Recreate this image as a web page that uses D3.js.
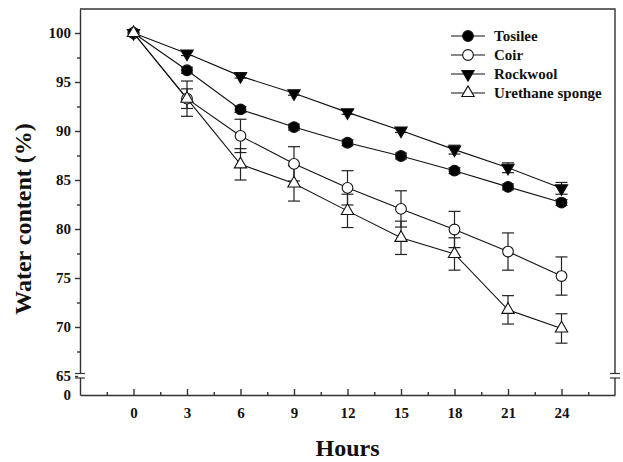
<!DOCTYPE html>
<html lang="en">
<head>
    <meta charset="UTF-8">
    <title>Water content</title>
    <script src="https://cdn.jsdelivr.net/npm/d3@7/dist/d3.min.js"></script>
</head>
<style>
    body { margin: 0; background: #fff; }
    text { font-family: "Liberation Serif", "Times New Roman", serif; font-weight: bold; fill: #111; }
    .axis path, .axis line { stroke: #333; stroke-width: 1.4; }
    .axis text { font-size: 15px; }
</style>
<body>
<script>
    var width = 623;
    var height = 462;

    // data
    var hours = [0, 3, 6, 9, 12, 15, 18, 21, 24];
    var seriesNames = ['Tosilee', 'Coir', 'Rockwool', 'Urethane sponge'];
    var tosilee = [100, 96.2, 92.2, 90.4, 88.8, 87.45, 85.95, 84.3, 82.7];
    var tosileeErr = [0, 0.3, 0.3, 0.3, 0.3, 0.3, 0.3, 0.3, 0.3];
    var coir = [100, 93.3, 89.5, 86.65, 84.2, 82.05, 79.95, 77.7, 75.2];
    var coirErr = [0, 1.0, 1.7, 1.75, 1.75, 1.85, 1.85, 1.9, 1.95];
    var rockwool = [100, 97.9, 95.6, 93.85, 91.9, 90.05, 88.1, 86.25, 84.15];
    var rockwoolErr = [0, 0.2, 0.2, 0.2, 0.2, 0.2, 0.45, 0.5, 0.6];
    var urethane = [100, 93.3, 86.6, 84.65, 81.85, 79.1, 77.45, 71.75, 69.85];
    var urethaneErr = [0, 1.8, 1.6, 1.8, 1.7, 1.7, 1.65, 1.45, 1.5];
    var yTicks = [65, 70, 75, 80, 85, 90, 95, 100];
    var yMinor = [67.5, 72.5, 77.5, 82.5, 87.5, 92.5, 97.5];
    var xMinor = [-1.5, 1.5, 4.5, 7.5, 10.5, 13.5, 16.5, 19.5, 22.5, 25.5];

    var svg = d3.select('body')
        .append('svg')
        .attr('width', width)
        .attr('height', height)

    var box = {left: 80, right: 615, top: 9, bottom: 395}

    var xScale = d3.scaleLinear()
        .domain([-3, 27])
        .range([box.left, box.right])

    // broken axis: 0 sits at the bottom, 65..100 spread above it
    var yScale = d3.scaleLinear()
        .domain([0, 65, 102.45])
        .range([box.bottom, 376, box.top])

    // frame: top and right sides
    svg.append('path')
        .attr('d', 'M' + box.left + ',' + box.top + 'H' + box.right + 'V' + box.bottom)
        .attr('fill', 'none')
        .attr('stroke', '#333')
        .attr('stroke-width', 1.4)

    svg.append('g')
        .attr('class', 'axis')
        .attr('transform', 'translate(0,' + box.bottom + ')')
        .call(d3.axisBottom(xScale).tickValues(xMinor).tickSize(-3).tickFormat(''))
        .select('.domain').remove()

    svg.append('g')
        .attr('class', 'axis')
        .attr('transform', 'translate(0,' + box.bottom + ')')
        .call(d3.axisBottom(xScale).tickValues(hours).tickSize(-6).tickSizeOuter(0).tickPadding(12))

    svg.append('g')
        .attr('class', 'axis')
        .attr('transform', 'translate(' + box.left + ',0)')
        .call(d3.axisLeft(yScale).tickValues(yMinor).tickSize(3).tickFormat(''))
        .select('.domain').remove()

    svg.append('g')
        .attr('class', 'axis')
        .attr('transform', 'translate(' + box.left + ',0)')
        .call(d3.axisLeft(yScale).tickValues([0].concat(yTicks)).tickSize(5).tickSizeOuter(0).tickPadding(4))
        .selectAll('.tick line')
        .filter(function (d) { return d === 0 })
        .remove()

    // axis break marks on both sides
    var breakTop = yScale(65) - 2.5;
    var breakBot = yScale(65) + 2;
    [box.left, box.right].forEach(function (bx) {
        svg.append('rect')
            .attr('x', bx - 2)
            .attr('y', breakTop)
            .attr('width', 4)
            .attr('height', breakBot - breakTop)
            .attr('fill', '#fff')
        svg.selectAll(null)
            .data([breakTop, breakBot])
            .enter()
            .append('line')
            .attr('x1', bx - 5)
            .attr('x2', bx + 5)
            .attr('y1', function (d) { return d })
            .attr('y2', function (d) { return d })
            .attr('stroke', '#333')
            .attr('stroke-width', 1.2)
    })

    var series = [
        {name: seriesNames[0], values: tosilee, err: tosileeErr, symbol: d3.symbolCircle, size: 90, fill: '#000', rot: 0},
        {name: seriesNames[1], values: coir, err: coirErr, symbol: d3.symbolCircle, size: 90, fill: '#fff', rot: 0},
        {name: seriesNames[2], values: rockwool, err: rockwoolErr, symbol: d3.symbolTriangle, size: 66, fill: '#000', rot: 180},
        {name: seriesNames[3], values: urethane, err: urethaneErr, symbol: d3.symbolTriangle, size: 66, fill: '#fff', rot: 0}
    ]

    var line = d3.line()
        .x(function (d, i) { return xScale(hours[i]) })
        .y(function (d) { return yScale(d) })

    // error bars
    series.forEach(function (s) {
        var g = svg.append('g').attr('stroke', '#222').attr('stroke-width', 1.2)
        s.values.forEach(function (v, i) {
            if (!s.err[i]) return;
            var cx = xScale(hours[i]);
            var y1 = yScale(v + s.err[i]);
            var y2 = yScale(v - s.err[i]);
            g.append('line').attr('x1', cx).attr('x2', cx).attr('y1', y1).attr('y2', y2)
            g.append('line').attr('x1', cx - 6).attr('x2', cx + 6).attr('y1', y1).attr('y2', y1)
            g.append('line').attr('x1', cx - 6).attr('x2', cx + 6).attr('y1', y2).attr('y2', y2)
        })
    })

    series.forEach(function (s) {
        svg.append('path')
            .attr('d', line(s.values))
            .attr('fill', 'none')
            .attr('stroke', '#111')
            .attr('stroke-width', 1.1)
    })

    series.forEach(function (s) {
        svg.selectAll(null)
            .data(s.values)
            .enter()
            .append('path')
            .attr('d', d3.symbol().type(s.symbol).size(s.size))
            .attr('transform', function (d, i) {
                return 'translate(' + xScale(hours[i]) + ',' + yScale(d) + ') rotate(' + s.rot + ')'
            })
            .attr('fill', s.fill)
            .attr('stroke', '#111')
            .attr('stroke-width', 1.1)
    })

    // legend
    var legend = svg.append('g').attr('transform', 'translate(451,36)')
    series.forEach(function (s, i) {
        var row = legend.append('g').attr('transform', 'translate(0,' + (i * 19) + ')')
        row.append('line').attr('x1', 0).attr('x2', 34).attr('stroke', '#111').attr('stroke-width', 1.1)
        row.append('path')
            .attr('d', d3.symbol().type(s.symbol).size(s.size))
            .attr('transform', 'translate(17,0) rotate(' + s.rot + ')')
            .attr('fill', s.fill)
            .attr('stroke', '#111')
            .attr('stroke-width', 1.1)
        row.append('text')
            .attr('x', 43)
            .attr('dy', '0.35em')
            .style('font-size', '15px')
            .text(s.name)
    })

    svg.append('text')
        .attr('x', (box.left + box.right) / 2)
        .attr('y', 456)
        .attr('text-anchor', 'middle')
        .style('font-size', '24px')
        .text('Hours')

    svg.append('text')
        .attr('transform', 'translate(31,219) rotate(-90)')
        .attr('text-anchor', 'middle')
        .style('font-size', '24px')
        .text('Water content (%)')
</script>

</body>
</html>
